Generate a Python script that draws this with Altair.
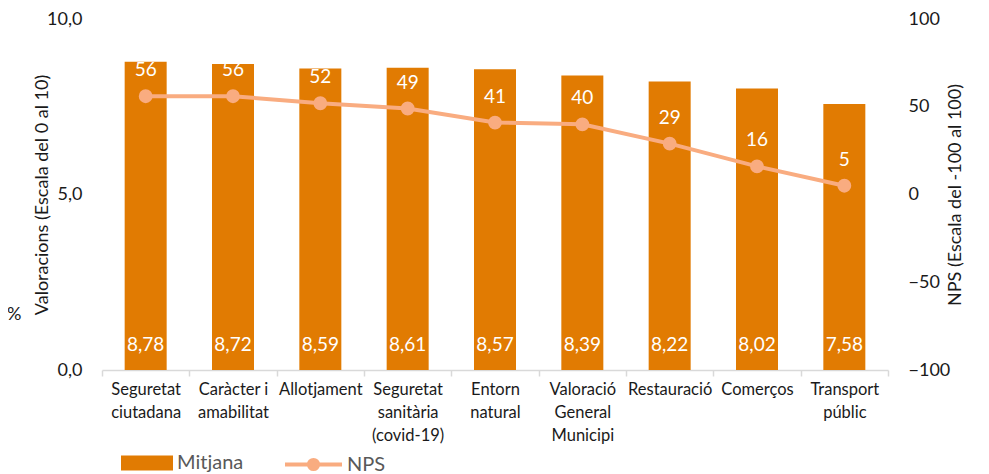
import altair as alt
import pandas as pd

categories = ["Seguretat|ciutadana", "Caràcter i|amabilitat", "Allotjament",
              "Seguretat|sanitària|(covid-19)", "Entorn|natural",
              "Valoració|General|Municipi", "Restauració", "Comerços", "Transport|públic"]
mitjana = [8.78, 8.72, 8.59, 8.61, 8.57, 8.39, 8.22, 8.02, 7.58]
nps = [56, 56, 52, 49, 41, 40, 29, 16, 5]

df = pd.DataFrame({"cat": categories, "mitjana": mitjana, "nps": nps,
                   "s1": ["Mitjana"] * 9, "s2": ["NPS"] * 9, "zero": [0] * 9})

BAR = "#E17B02"
LINE = "#F9AC80"
FONT = "Lato"
TXT = "#1a1a1a"

x = alt.X("cat:N", sort=None, title=None,
          scale=alt.Scale(paddingInner=0, paddingOuter=0),
          axis=alt.Axis(labelExpr="split(datum.label, '|')", labelAngle=0,
                        labelFontSize=16.5, labelColor=TXT, labelFont=FONT,
                        labelLineHeight=23, labelPadding=5, labelBaseline="top",
                        tickBand="extent", tickSize=6, tickColor="#d9d9d9",
                        domainColor="#d9d9d9", domainWidth=1.5, tickWidth=1.5))

base = alt.Chart(df)

bars = base.mark_bar(size=42).encode(
    x=x,
    y=alt.Y("mitjana:Q", scale=alt.Scale(domain=[0, 10], nice=False),
            axis=alt.Axis(values=[0, 5, 10], grid=False, domain=False, ticks=False,
                          labelExpr="replace(format(datum.value, '.1f'), '.', ',')",
                          labelFontSize=18, labelFont=FONT, labelColor=TXT,
                          labelPadding=20,
                          title="Valoracions (Escala  del 0 al 10)",
                          titleFontSize=18, titleFont=FONT, titleFontWeight="normal",
                          titleColor=TXT, titleAngle=270, titleBaseline="middle",
                          titleAlign="center", titleX=-60, titleY=175.5)),
    fill=alt.Fill("s1:N", scale=alt.Scale(domain=["Mitjana"], range=[BAR]),
                  legend=alt.Legend(title=None, orient="none", legendX=19, legendY=418,
                                    symbolType="M-1,-0.29H1V0.29H-1Z", symbolSize=2704,
                                    symbolStrokeWidth=0, padding=0,
                                    labelFontSize=20, labelFont=FONT, labelColor="#595959",
                                    labelOffset=4)),
)

bar_text = base.transform_calculate(
    lab="replace(format(datum.mitjana, '.2f'), '.', ',')"
).mark_text(color="white", fontSize=19, font=FONT, dy=-25, baseline="middle").encode(
    x=x,
    y=alt.Y("zero:Q", scale=alt.Scale(domain=[0, 10], nice=False), axis=None),
    text="lab:N",
)

line = base.mark_line(strokeWidth=4, point=alt.OverlayMarkDef(size=140, filled=True, color=LINE, opacity=1)).encode(
    x=x,
    y=alt.Y("nps:Q", scale=alt.Scale(domain=[-100, 100], nice=False),
            axis=alt.Axis(orient="right", values=[-100, -50, 0, 50, 100], grid=False,
                          domain=False, ticks=False, labelFontSize=18, labelFont=FONT,
                          labelColor=TXT, labelPadding=20,
                          title="NPS (Escala  del -100 al 100)", titleAngle=270,
                          titleFontSize=18, titleFont=FONT, titleFontWeight="normal",
                          titleColor=TXT, titleBaseline="middle", titleAlign="center",
                          titleX=67, titleY=175.5)),
    stroke=alt.Stroke("s2:N", scale=alt.Scale(domain=["NPS"], range=[LINE]),
                      legend=alt.Legend(title=None, orient="none", legendX=181, legendY=415,
                                        symbolType="M-1,0H1M0.16,0A0.16,0.16,0,1,1,-0.16,0A0.16,0.16,0,1,1,0.16,0",
                                        symbolSize=3249, symbolStrokeWidth=4, padding=0,
                                        symbolFillColor=LINE, symbolStrokeColor=LINE,
                                        labelFontSize=20, labelFont=FONT, labelColor="#595959",
                                        labelOffset=3)),
)

line_text = base.mark_text(color="white", fontSize=19, font=FONT, dy=-26, baseline="middle").encode(
    x=x,
    y=alt.Y("nps:Q", scale=alt.Scale(domain=[-100, 100], nice=False), axis=None),
    text="nps:Q",
)

pct = alt.Chart(alt.Data(values=[{"t": "%"}])).mark_text(
    align="left", baseline="middle", fontSize=18, font=FONT, color=TXT
).encode(x=alt.value(-95), y=alt.value(296), text="t:N")

chart = alt.layer(bars, bar_text, line, line_text, pct).resolve_scale(
    y="independent", fill="independent", stroke="independent"
).resolve_legend(fill="independent", stroke="independent").properties(
    width=786, height=351,
    padding={"left": 94, "top": 11, "right": 93, "bottom": 110},
    autosize=alt.AutoSizeParams(type="none"),
    background="white",
).configure_view(stroke=None)

chart.save("out.html", embed_options={"renderer": "svg", "actions": False})
